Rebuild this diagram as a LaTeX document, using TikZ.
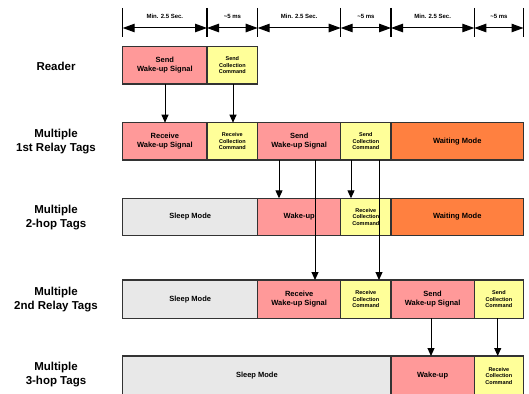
\documentclass[tikz,border=0pt]{standalone}
\usepackage{fontspec}
\setmainfont{Liberation Sans}
\usetikzlibrary{arrows.meta,calc}
\definecolor{cred}{HTML}{FF9999}
\definecolor{cyel}{HTML}{FFFF99}
\definecolor{corg}{HTML}{FF8040}
\definecolor{cgry}{HTML}{E8E8E8}
\definecolor{cbrd}{HTML}{333333}
\newcommand{\segbox}[8]{%
  \node[segbox,fill=#6,font=#8,minimum width={(#3)-(#2)},minimum height={(#5)-(#4)}] (#1) at ({((#2)+(#3))/2},{((#4)+(#5))/2}) {#7};}
\begin{document}
\begin{tikzpicture}[x=1pt,y=-1pt,
  segbox/.style={draw=cbrd,line width=1.2pt,rectangle,inner sep=0pt,outer sep=0pt,align=center,text=black},
  rowlabel/.style={font=\fontsize{11.5}{14}\selectfont\bfseries,align=center,inner sep=0pt},
  tlabel/.style={font=\fontsize{6}{7}\selectfont\bfseries,inner sep=0pt},
  tick/.style={line width=1.2pt,draw=black},
  span/.style={line width=1pt,{Triangle[length=12pt,width=8.5pt]}-{Triangle[length=12pt,width=8.5pt]}},
  arr/.style={line width=1pt,-{Triangle[length=8pt,width=7pt]}}]
\useasboundingbox (0,0) rectangle (529,393);
\def\bigf{\fontsize{7.5}{9}\selectfont\bfseries}
\def\smf{\fontsize{5.5}{6.6}\selectfont\bfseries}
% timeline
\foreach \x [count=\i] in {122.7,207,257.7,340.7,391,474.3,523.5}{
  \coordinate (t\i) at (\x,8);
  \coordinate (b\i) at (\x,37);
  \draw[tick] (t\i) -- (b\i);
}
\foreach \i/\j/\lab in {1/2/{Min. 2.5 Sec.},2/3/{\textasciitilde5 ms},3/4/{Min. 2.5 Sec.},4/5/{\textasciitilde5 ms},5/6/{Min. 2.5 Sec.},6/7/{\textasciitilde5 ms}}{
  \coordinate (m\i) at ($(t\i)!0.5!(t\j)$);
  \draw[span] ([yshift=-20pt]t\i) -- ([yshift=-20pt]t\j);
  \node[tlabel] (l\i) at ([yshift=-8.5pt]m\i) {\lab};
}
% row labels
\node[rowlabel] (n1) at (56,66) {Reader};
\node[rowlabel] (n2) at (56,141.5) {Multiple\\1st Relay Tags};
\node[rowlabel] (n3) at (56,217.5) {Multiple\\2-hop Tags};
\node[rowlabel] (n4) at (56,299.5) {Multiple\\2nd Relay Tags};
\node[rowlabel] (n5) at (56,375) {Multiple\\3-hop Tags};
% row 1
\segbox{r1a}{122.7}{207}{46.7}{84}{cred}{Send\\Wake-up Signal}{\bigf}
\segbox{r1b}{207}{257.7}{46.7}{84}{cyel}{Send\\Collection\\Command}{\smf}
% row 2
\segbox{r2a}{122.7}{207}{122.7}{160}{cred}{Receive\\Wake-up Signal}{\bigf}
\segbox{r2b}{207}{257.7}{122.7}{160}{cyel}{Receive\\Collection\\Command}{\smf}
\segbox{r2c}{257.7}{340.7}{122.7}{160}{cred}{Send\\Wake-up Signal}{\bigf}
\segbox{r2d}{340.7}{391}{122.7}{160}{cyel}{Send\\Collection\\Command}{\smf}
\segbox{r2e}{391}{523.5}{122.7}{160}{corg}{Waiting Mode}{\bigf}
% row 3
\segbox{r3a}{122.7}{257.7}{198.3}{235.7}{cgry}{Sleep Mode}{\bigf}
\segbox{r3b}{257.7}{340.7}{198.3}{235.7}{cred}{Wake-up}{\bigf}
\segbox{r3c}{340.7}{391}{198.3}{235.7}{cyel}{Receive\\Collection\\Command}{\smf}
\segbox{r3d}{391}{523.5}{198.3}{235.7}{corg}{Waiting Mode}{\bigf}
% row 4
\segbox{r4a}{122.7}{257.7}{280}{318.3}{cgry}{Sleep Mode}{\bigf}
\segbox{r4b}{257.7}{340.7}{280}{318.3}{cred}{Receive\\Wake-up Signal}{\bigf}
\segbox{r4c}{340.7}{391}{280}{318.3}{cyel}{Receive\\Collection\\Command}{\smf}
\segbox{r4d}{391}{474.3}{280}{318.3}{cred}{Send\\Wake-up Signal}{\bigf}
\segbox{r4e}{474.3}{523.5}{280}{318.3}{cyel}{Send\\Collection\\Command}{\smf}
% row 5
\segbox{r5a}{122.7}{391}{356}{396}{cgry}{Sleep Mode}{\bigf}
\segbox{r5b}{391}{474.3}{356}{396}{cred}{Wake-up}{\bigf}
\segbox{r5c}{474.3}{523.5}{356}{396}{cyel}{Receive\\Collection\\Command}{\smf}
% arrow x positions
\coordinate (x1) at (165,0);
\coordinate (x2) at (233,0);
\coordinate (x3) at (279,0);
\coordinate (x4) at (351,0);
\coordinate (x5) at (315,0);
\coordinate (x6) at (379,0);
\coordinate (x7) at (431,0);
\coordinate (x8) at (497.7,0);
\draw[arr] (r1a.south -| x1) -- (r2a.north -| x1);
\draw[arr] (r1b.south -| x2) -- (r2b.north -| x2);
\draw[arr] (r2c.south -| x3) -- (r3b.north -| x3);
\draw[arr] (r2d.south -| x4) -- (r3c.north -| x4);
\draw[arr] (r2c.south -| x5) -- (r4b.north -| x5);
\draw[arr] (r2d.south -| x6) -- (r4c.north -| x6);
\draw[arr] (r4d.south -| x7) -- (r5b.north -| x7);
\draw[arr] (r4e.south -| x8) -- (r5c.north -| x8);
\end{tikzpicture}
\end{document}
